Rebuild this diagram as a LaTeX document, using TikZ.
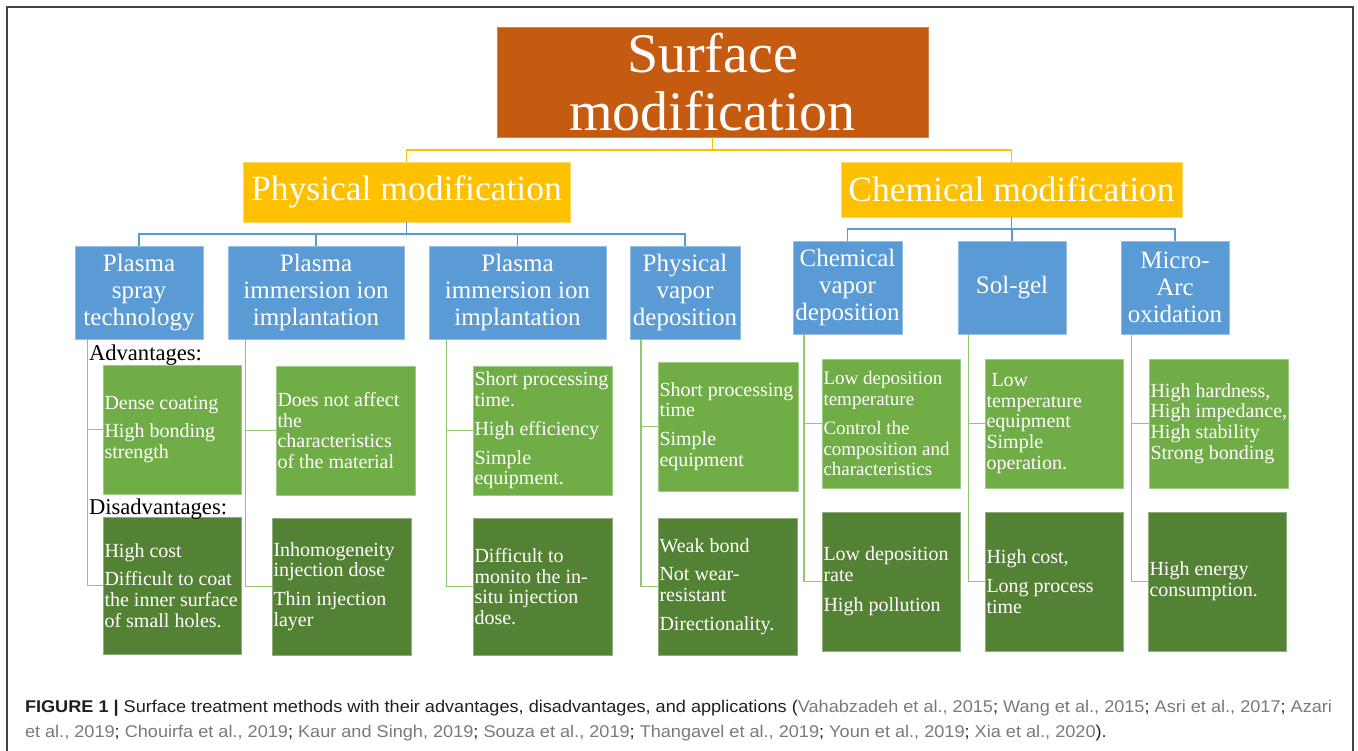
\documentclass[tikz,border=0pt]{standalone}
\usepackage{fontspec}
\setmainfont{Liberation Serif}
\newfontfamily\capfont{Liberation Sans}
\usepackage{graphicx}
\usetikzlibrary{calc}
\definecolor{surf}{HTML}{C55A11}
\definecolor{gold}{HTML}{FFC000}
\definecolor{blu}{HTML}{5B9BD5}
\definecolor{lgreen}{HTML}{70AD47}
\definecolor{dgreen}{HTML}{548235}
\definecolor{gline}{HTML}{92C66F}
\definecolor{capdark}{HTML}{231F20}
\definecolor{capgrey}{HTML}{7A7A7A}
\definecolor{frame}{HTML}{444444}
\newsavebox\capA
\newlength\capwd
\newcommand\cg[1]{{\color{capgrey}#1}}
\newcommand\boxat[7]{\node[#6, minimum width={#4-#2}, minimum height={#5-#3}] (#1) at ({(#2+#4)/2},{(#3+#5)/2}) {#7};}
\begin{document}
\sbox\capA{\capfont\fontsize{17}{20}\selectfont\color{capdark}{\bfseries FIGURE 1 |} Surface treatment methods with their advantages, disadvantages, and applications (\cg{Vahabzadeh et al., 2015}; \cg{Wang et al., 2015}; \cg{Asri et al., 2017}; \cg{Azari}}%
\setlength\capwd{\wd\capA}%
\pgfmathsetmacro\capf{1307/\capwd}%
\begin{tikzpicture}[x=1pt,y=-1pt,
  every node/.style={inner sep=0pt, outer sep=0pt},
  surfbox/.style={fill=surf, draw=surf!75!white, line width=0.8pt, text=white, align=center, font=\fontsize{56}{58}\selectfont},
  goldbox/.style={fill=gold, draw=gold!60!white, line width=0.8pt, text=white, align=center, font=\fontsize{35.5}{38}\selectfont},
  bluebox/.style={fill=blu, draw=blu!65!white, line width=0.8pt, text=white, align=center, font=\fontsize{25}{26.7}\selectfont},
  lbox/.style={fill=lgreen, draw=lgreen!65!white, line width=0.8pt},
  dbox/.style={fill=dgreen, draw=dgreen!65!white, line width=0.8pt},
  gtext/.style={anchor=west, text=white, align=left, inner xsep=1.5pt, font=\fontsize{20}{20.8}\selectfont},
  lab/.style={anchor=base west, font=\fontsize{22.6}{24}\selectfont},
  yl/.style={draw=gold, line width=1.3pt},
  bl/.style={draw=blu, line width=1.3pt},
  gl/.style={draw=gline, line width=1.3pt}]
\useasboundingbox (0,0) rectangle (1358,750);
\fill[white] (0,0) rectangle (1358,750);
% frame
\draw[frame, line width=1.5pt] (7,752) -- (7,7) -- (1353,7) -- (1353,752);

% top levels
\boxat{surf}{497}{27}{928}{137}{surfbox}{Surface\\modification}
\boxat{phys}{243}{162}{570}{222}{goldbox}{Physical modification}
\boxat{chem}{841}{162}{1182}{217}{goldbox}{Chemical modification}

% methods
\boxat{b1}{75}{246}{203}{339}{bluebox}{Plasma\\spray\\technology}
\boxat{b2}{228}{246}{404}{339}{bluebox}{Plasma\\immersion ion\\implantation}
\boxat{b3}{429}{246}{606}{339}{bluebox}{Plasma\\immersion ion\\implantation}
\boxat{b4}{630}{246}{740}{339}{bluebox}{Physical\\vapor\\deposition}
\boxat{b5}{793}{241}{902}{334}{bluebox}{Chemical\\vapor\\deposition}
\boxat{b6}{958}{241}{1066}{334}{bluebox}{Sol-gel}
\boxat{b7}{1121}{241}{1229}{334}{bluebox}{Micro-\\Arc\\oxidation}

% connectors top
\draw[yl] (surf.south) -- ++(0,13) -| (phys.north);
\draw[yl] (surf.south) -- ++(0,13) -| (chem.north);
\foreach \b in {b1,b2,b3,b4}{\draw[bl] (phys.south) -- ++(0,12) -| (\b.north);}
\foreach \b in {b5,b6,b7}{\draw[bl] (chem.south) -- ++(0,12) -| (\b.north);}

% advantage / disadvantage boxes
\boxat{l1}{103}{365}{241}{494}{lbox}{}
\boxat{d1}{103}{517}{241}{654}{dbox}{}
\boxat{l2}{276}{366}{415}{495}{lbox}{}
\boxat{d2}{272}{518}{411}{655}{dbox}{}
\boxat{l3}{473}{366}{612}{495}{lbox}{}
\boxat{d3}{473}{518}{612}{655}{dbox}{}
\boxat{l4}{658}{362}{798}{491}{lbox}{}
\boxat{d4}{658}{518}{797}{655}{dbox}{}
\boxat{l5}{822}{359}{960}{488}{lbox}{}
\boxat{d5}{822}{512}{960}{651}{dbox}{}
\boxat{l6}{985}{359}{1123}{488}{lbox}{}
\boxat{d6}{985}{512}{1123}{651}{dbox}{}
\boxat{l7}{1149}{359}{1288}{488}{lbox}{}
\boxat{d7}{1148}{512}{1286}{651}{dbox}{}

% green connectors
\foreach \i in {1,...,7}{
  \coordinate (v\i) at ($(b\i.south west)!0.1!(b\i.south east)$);
  \draw[gl] (v\i) |- (l\i.west);
  \draw[gl] (v\i) |- (d\i.west);
}

% labels
\node[lab] (adv) at (89,360) {Advantages:};
\node[lab] (dis) at (89,514) {Disadvantages:};

% texts
\node[gtext] (tl1) at (l1.west) {Dense coating\\[8pt]High bonding\\strength};
\node[gtext] (td1) at (d1.west) {High cost\\[8pt]Difficult to coat\\the inner surface\\of small holes.};
\node[gtext] (tl2) at (l2.west) {Does not affect\\the\\characteristics\\of the material};
\node[gtext] (td2) at (d2.west) {Inhomogeneity\\injection dose\\[8pt]Thin injection\\layer};
\node[gtext] (tl3) at (l3.west) {Short processing\\time.\\[8pt]High efficiency\\[8pt]Simple\\equipment.};
\node[gtext] (td3) at (d3.west) {Difficult to\\monito the in-\\situ injection\\dose.};
\node[gtext] (tl4) at (l4.west) {Short processing\\time\\[8pt]Simple\\equipment};
\node[gtext] (td4) at (d4.west) {Weak bond\\[8pt]Not wear-\\resistant\\[8pt]Directionality.};
\node[gtext, font=\fontsize{19}{20.5}\selectfont] (tl5) at (l5.west) {Low deposition\\temperature\\[9pt]Control the\\composition and\\characteristics};
\node[gtext] (td5) at (d5.west) {Low deposition\\rate\\[9pt]High pollution};
\node[gtext] (tl6) at (l6.west) {\hspace*{5pt}Low\\temperature\\equipment\\Simple\\operation.};
\node[gtext] (td6) at (d6.west) {High cost,\\[8pt]Long process\\time};
\node[gtext] (tl7) at (l7.west) {High hardness,\\High impedance,\\High stability\\Strong bonding};
\node[gtext] (td7) at (d7.west) {High energy\\consumption.};

% caption
\node[anchor=base west] (cap1) at (25,712) {\scalebox{\capf}[1]{\usebox\capA}};
\node[anchor=base west] (cap2) at (25,737) {\scalebox{\capf}[1]{\capfont\fontsize{17}{20}\selectfont\color{capdark}\cg{et al., 2019}; \cg{Chouirfa et al., 2019}; \cg{Kaur and Singh, 2019}; \cg{Souza et al., 2019}; \cg{Thangavel et al., 2019}; \cg{Youn et al., 2019}; \cg{Xia et al., 2020}).}};
\end{tikzpicture}
\end{document}
